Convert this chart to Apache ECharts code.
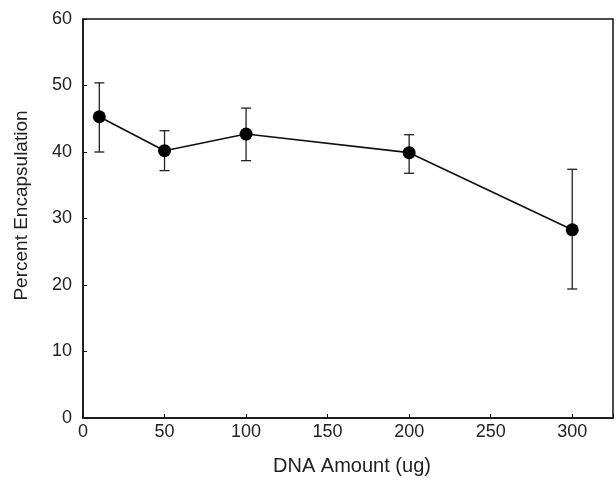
<!DOCTYPE html>
<html>
<head>
<meta charset="utf-8">
<script src="https://cdn.jsdelivr.net/npm/echarts@6/dist/echarts.min.js"></script>
<style>html,body{margin:0;padding:0;background:#fff;}#c{width:616px;height:481px;}</style>
</head>
<body>
<div id="c"></div>
<script>
var dnaAmount = [10, 50, 100, 200, 300];
var encapsulation = [45.3, 40.2, 42.7, 39.9, 28.3];
var errUpper = [50.4, 43.2, 46.6, 42.6, 37.4];
var errLower = [40.0, 37.2, 38.7, 36.8, 19.4];
var xTicks = [0, 50, 100, 150, 200, 250, 300];
var yTicks = [0, 10, 20, 30, 40, 50, 60];

var chart = echarts.init(document.getElementById('c'));
var font = 'Liberation Sans, Arial, Helvetica, sans-serif';
var lineData = dnaAmount.map(function (x, i) { return [x, encapsulation[i]]; });
var errData = dnaAmount.map(function (x, i) { return [x, errLower[i], errUpper[i]]; });

chart.setOption({
  animation: false,
  backgroundColor: '#fff',
  grid: { left: 83, right: 3, top: 19, bottom: 63, show: true, borderColor: '#111', borderWidth: 1.5, backgroundColor: 'transparent' },
  xAxis: {
    type: 'value', min: 0, max: 325, interval: 50,
    name: 'DNA Amount (ug)', nameLocation: 'middle', nameGap: 38,
    nameTextStyle: { fontFamily: font, fontSize: 20, color: '#222', padding: [0, 0, 0, 8] },
    axisLine: { show: true, lineStyle: { color: '#111', width: 1.5 } },
    axisTick: { show: true, inside: true, length: 4, lineStyle: { color: '#111' } },
    axisLabel: { fontFamily: font, fontSize: 18, color: '#222', margin: 5,
      formatter: function (v) { return xTicks.indexOf(v) >= 0 ? String(v) : ''; } },
    splitLine: { show: false }
  },
  yAxis: {
    type: 'value', min: 0, max: 60, interval: 10,
    name: 'Percent Encapsulation', nameLocation: 'middle', nameGap: 52,
    nameTextStyle: { fontFamily: font, fontSize: 19, color: '#222', padding: [0, 0, 0, 26] },
    axisLine: { show: true, lineStyle: { color: '#111', width: 1.5 } },
    axisTick: { show: true, inside: true, length: 4, lineStyle: { color: '#111' } },
    axisLabel: { fontFamily: font, fontSize: 18, color: '#222', margin: 11,
      formatter: function (v) { return yTicks.indexOf(v) >= 0 ? String(v) : ''; } },
    splitLine: { show: false }
  },
  series: [
    {
      type: 'custom',
      data: errData,
      z: 1,
      renderItem: function (params, api) {
        var x = api.value(0);
        var lo = api.coord([x, api.value(1)]);
        var hi = api.coord([x, api.value(2)]);
        var w = 5;
        var st = { stroke: '#222', lineWidth: 1.3 };
        return {
          type: 'group',
          children: [
            { type: 'line', shape: { x1: hi[0], y1: hi[1], x2: lo[0], y2: lo[1] }, style: st },
            { type: 'line', shape: { x1: hi[0] - w, y1: hi[1], x2: hi[0] + w, y2: hi[1] }, style: st },
            { type: 'line', shape: { x1: lo[0] - w, y1: lo[1], x2: lo[0] + w, y2: lo[1] }, style: st }
          ]
        };
      }
    },
    {
      type: 'line',
      data: lineData,
      z: 3,
      symbol: 'circle',
      symbolSize: 13,
      itemStyle: { color: '#000' },
      lineStyle: { color: '#111', width: 1.6 }
    }
  ]
});
</script>
</body>
</html>
